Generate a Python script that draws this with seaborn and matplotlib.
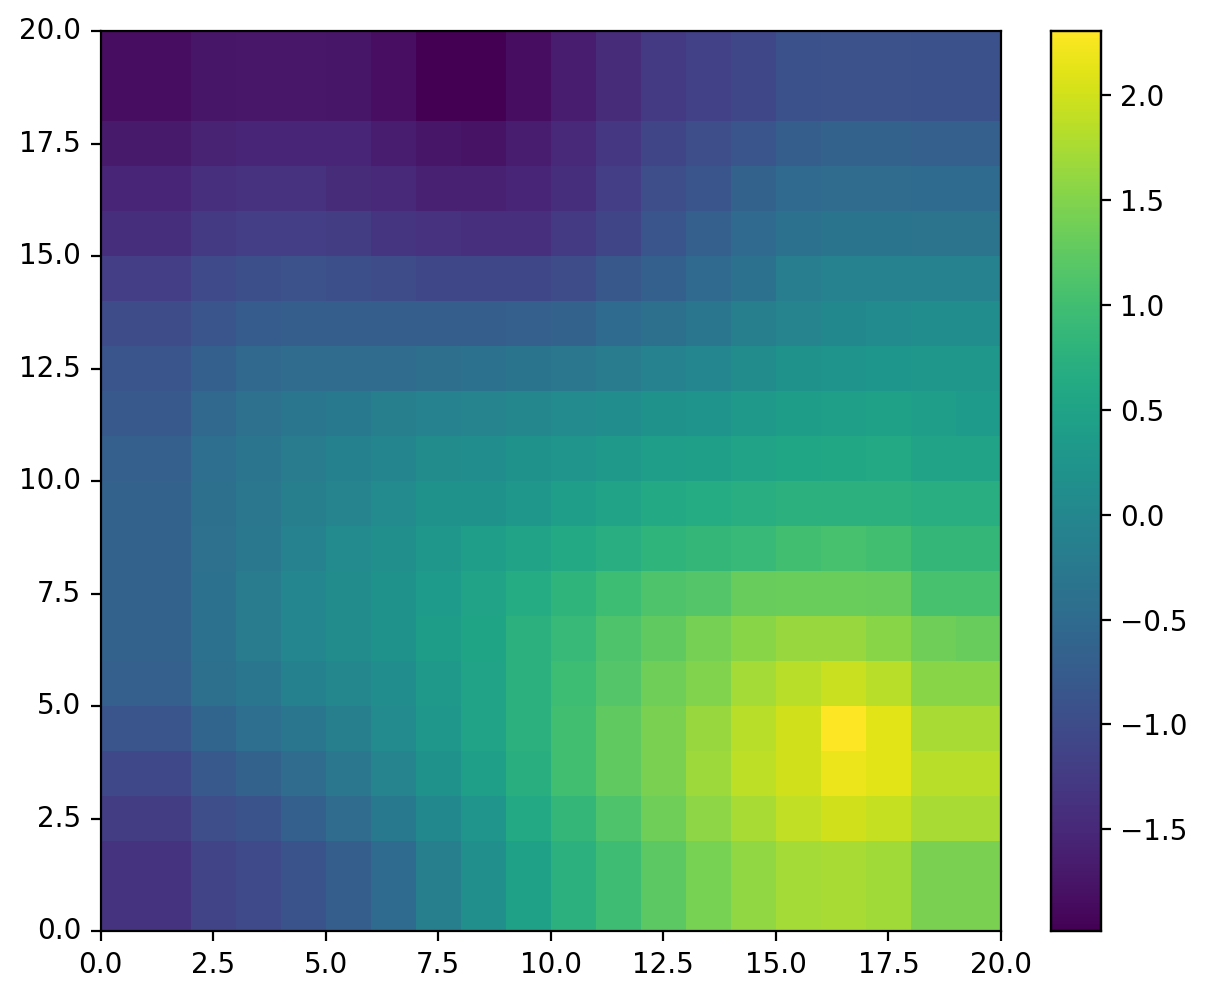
import pandas as pd
import matplotlib.pyplot as plt
import seaborn as sns

# Grid values, row by row from the top (y=20) down
y19 = [-1.85, -1.85, -1.74, -1.72, -1.72, -1.75, -1.82, -1.98, -1.98, -1.85, -1.65, -1.45, -1.28, -1.17, -1.08, -0.92, -0.9, -0.9, -0.92, -0.92]
y18 = y19
y17 = [-1.7, -1.7, -1.58, -1.55, -1.55, -1.55, -1.65, -1.75, -1.78, -1.65, -1.5, -1.3, -1.1, -0.97, -0.85, -0.72, -0.66, -0.66, -0.7, -0.7]
y16 = [-1.55, -1.55, -1.4, -1.38, -1.38, -1.45, -1.5, -1.6, -1.6, -1.55, -1.42, -1.2, -0.98, -0.85, -0.65, -0.52, -0.48, -0.48, -0.5, -0.5]
y15 = [-1.42, -1.42, -1.28, -1.2, -1.2, -1.22, -1.32, -1.38, -1.4, -1.4, -1.28, -1.1, -0.85, -0.7, -0.52, -0.38, -0.33, -0.33, -0.35, -0.35]
y14 = [-1.2, -1.2, -1.02, -0.95, -0.9, -0.95, -1.0, -1.08, -1.08, -1.08, -1.0, -0.82, -0.68, -0.52, -0.38, -0.18, -0.1, -0.08, -0.08, -0.08]
y13 = [-1.0, -1.0, -0.85, -0.75, -0.72, -0.72, -0.72, -0.72, -0.72, -0.7, -0.65, -0.5, -0.42, -0.3, -0.15, -0.05, 0.02, 0.07, 0.1, 0.1]
y12 = [-0.85, -0.85, -0.68, -0.55, -0.48, -0.48, -0.48, -0.43, -0.38, -0.33, -0.28, -0.2, -0.1, -0.02, 0.08, 0.18, 0.23, 0.27, 0.28, 0.28]
y11 = [-0.8, -0.8, -0.55, -0.4, -0.3, -0.25, -0.15, -0.1, -0.05, 0.0, 0.05, 0.12, 0.18, 0.24, 0.32, 0.38, 0.42, 0.45, 0.4, 0.35]
y10 = [-0.7, -0.7, -0.45, -0.32, -0.2, -0.12, -0.03, 0.08, 0.12, 0.18, 0.25, 0.32, 0.4, 0.42, 0.5, 0.55, 0.57, 0.6, 0.5, 0.5]
y9 = [-0.65, -0.65, -0.42, -0.28, -0.15, -0.05, 0.05, 0.2, 0.2, 0.3, 0.4, 0.5, 0.6, 0.65, 0.7, 0.75, 0.75, 0.75, 0.7, 0.7]
y8 = [-0.65, -0.65, -0.4, -0.27, -0.08, 0.05, 0.15, 0.3, 0.4, 0.5, 0.6, 0.7, 0.8, 0.85, 0.9, 1.0, 1.05, 1.0, 0.85, 0.85]
y7 = [-0.65, -0.65, -0.38, -0.22, -0.02, 0.08, 0.2, 0.35, 0.5, 0.65, 0.8, 0.95, 1.1, 1.15, 1.3, 1.32, 1.32, 1.3, 1.05, 1.05]
y6 = [-0.65, -0.65, -0.38, -0.22, -0.02, 0.08, 0.2, 0.38, 0.52, 0.75, 0.9, 1.1, 1.25, 1.4, 1.55, 1.65, 1.65, 1.55, 1.35, 1.3]
y5 = [-0.7, -0.7, -0.42, -0.3, -0.12, 0.0, 0.1, 0.33, 0.5, 0.75, 0.95, 1.15, 1.35, 1.5, 1.72, 1.85, 1.95, 1.85, 1.55, 1.55]
y4 = [-0.85, -0.85, -0.6, -0.45, -0.3, -0.15, 0.05, 0.28, 0.5, 0.75, 1.0, 1.25, 1.45, 1.65, 1.85, 2.0, 2.3, 2.12, 1.75, 1.75]
y3 = [-1.05, -1.05, -0.8, -0.65, -0.48, -0.28, -0.05, 0.2, 0.42, 0.72, 1.0, 1.25, 1.45, 1.68, 1.87, 2.0, 2.18, 2.12, 1.85, 1.85]
y2 = [-1.22, -1.22, -0.98, -0.88, -0.68, -0.48, -0.25, 0.02, 0.25, 0.6, 0.85, 1.1, 1.35, 1.58, 1.75, 1.9, 2.0, 1.92, 1.75, 1.75]
y1 = [-1.35, -1.35, -1.12, -1.02, -0.88, -0.72, -0.5, -0.15, 0.15, 0.45, 0.75, 0.98, 1.22, 1.42, 1.6, 1.72, 1.75, 1.7, 1.45, 1.45]
y0 = y1

rows = [y0, y1, y2, y3, y4, y5, y6, y7, y8, y9, y10, y11, y12, y13, y14, y15, y16, y17, y18, y19]
axis_ticks = [0, 2.5, 5, 7.5, 10, 12.5, 15, 17.5, 20]
axis_labels = ["0.0", "2.5", "5.0", "7.5", "10.0", "12.5", "15.0", "17.5", "20.0"]
cbar_ticks = [-1.5, -1.0, -0.5, 0.0, 0.5, 1.0, 1.5, 2.0]

df = pd.DataFrame(rows)

fig = plt.figure(figsize=(6.04, 4.99), dpi=200)
ax = fig.add_axes([100.6 / 1208, 1 - 931.2 / 998, 900.4 / 1208, 900 / 998])
cax = fig.add_axes([1051 / 1208, 1 - 931.2 / 998, 50 / 1208, 900 / 998])

sns.heatmap(df, ax=ax, cbar_ax=cax, cmap="viridis", vmin=-1.986, vmax=2.305, cbar_kws={"ticks": cbar_ticks})

ax.set_xlim(0, 20)
ax.set_ylim(0, 20)
ax.set_xticks(axis_ticks)
ax.set_xticklabels(axis_labels, rotation=0)
ax.set_yticks(axis_ticks)
ax.set_yticklabels(axis_labels, rotation=0)
ax.tick_params(length=3.5, width=0.8, labelsize=10)
for spine in ax.spines.values():
    spine.set_visible(True)
    spine.set_linewidth(0.8)

cax.tick_params(length=3.5, width=0.8, labelsize=10)
for spine in cax.spines.values():
    spine.set_visible(True)
    spine.set_linewidth(0.8)
ax.collections[0].colorbar.outline.set_visible(True)
ax.collections[0].colorbar.outline.set_linewidth(0.8)

fig.savefig("out.png", dpi=200)
